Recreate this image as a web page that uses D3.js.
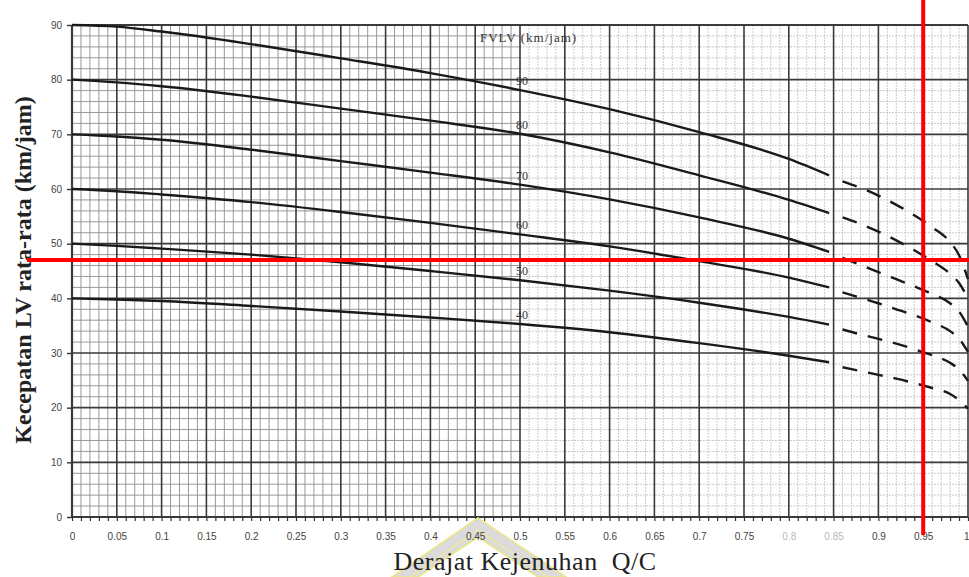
<!DOCTYPE html>
<html>
<head>
<meta charset="utf-8">
<script src="https://cdn.jsdelivr.net/npm/d3@7"></script>
<style>
  html, body { margin: 0; padding: 0; background: #fff; }
  svg { display: block; }
</style>
</head>
<body>
<svg id="chart" width="969" height="577"></svg>
<script>
  // ============================================================
  // Data
  // ============================================================

  const qcSolid = [0, 0.05, 0.1, 0.2, 0.3, 0.4, 0.5, 0.6, 0.7, 0.8, 0.845];
  const qcDashed = [0.86, 0.88, 0.9, 0.92, 0.94, 0.96, 0.98, 0.99, 1.0];

  const solid90 = [90, 89.7, 88.8, 86.5, 83.9, 81.2, 78.1, 74.6, 70.4, 65.5, 62.5];
  const solid80 = [80, 79.5, 78.8, 76.9, 74.7, 72.5, 70.1, 66.7, 62.5, 58.0, 55.6];
  const solid70 = [70, 69.6, 69.0, 67.2, 65.1, 63.0, 60.8, 58.1, 54.8, 50.9, 48.5];
  const solid60 = [60, 59.6, 59.0, 57.6, 55.8, 53.8, 51.7, 49.5, 46.8, 43.8, 42.0];
  const solid50 = [50, 49.6, 49.1, 48.0, 46.6, 45.0, 43.3, 41.4, 39.2, 36.6, 35.2];
  const solid40 = [40, 39.8, 39.5, 38.6, 37.6, 36.5, 35.3, 33.8, 31.8, 29.5, 28.3];

  const dashed90 = [61.4, 60.2, 58.8, 57.1, 55.2, 53.0, 50.3, 47.9, 43.5];
  const dashed80 = [54.8, 53.6, 52.2, 50.6, 48.8, 46.8, 44.5, 42.8, 40.0];
  const dashed70 = [47.4, 46.1, 44.8, 43.5, 42.2, 40.8, 39.1, 37.6, 34.8];
  const dashed60 = [41.1, 40.1, 39.1, 38.0, 36.9, 35.6, 34.0, 32.6, 30.2];
  const dashed50 = [34.3, 33.4, 32.6, 31.7, 30.7, 29.6, 28.2, 27.0, 24.9];
  const dashed40 = [27.4, 26.7, 26.0, 25.3, 24.5, 23.6, 22.5, 21.4, 19.8];

  const fvLevels = [90, 80, 70, 60, 50, 40];

  const xTicks = [0, 0.05, 0.1, 0.15, 0.2, 0.25, 0.3, 0.35, 0.4, 0.45, 0.5,
                  0.55, 0.6, 0.65, 0.7, 0.75, 0.8, 0.85, 0.9, 0.95, 1.0];
  const xTickLabels = ["0", "0.05", "0.1", "0.15", "0.2", "0.25", "0.3", "0.35", "0.4", "0.45", "0.5",
                       "0.55", "0.6", "0.65", "0.7", "0.75", "0.8", "0.85", "0.9", "0.95", "1"];
  const fadedTicks = [0.8, 0.85];
  const yTicks = [0, 10, 20, 30, 40, 50, 60, 70, 80, 90];

  // red reading lines drawn over the scan
  const markQC = 0.95;
  const markSpeed = 47;

  const series = fvLevels.map((fv, i) => ({
    fv: fv,
    solid: [solid90, solid80, solid70, solid60, solid50, solid40][i].map((v, j) => [qcSolid[j], v]),
    dashed: [dashed90, dashed80, dashed70, dashed60, dashed50, dashed40][i].map((v, j) => [qcDashed[j], v]),
  }));

  // ============================================================
  // Layout
  // ============================================================

  const svg = d3.select("#chart");
  const W = +svg.attr("width"), H = +svg.attr("height");

  const x = d3.scaleLinear().domain([0, 1]).range([72, 968]);
  const y = d3.scaleLinear().domain([0, 90]).range([517, 25]);

  svg.append("rect").attr("width", W).attr("height", H).attr("fill", "#fff");

  // ---- minor grid (0.01 x 2 km/jam), lighter on the right half
  const minor = svg.append("g").attr("class", "minor-grid");
  d3.range(0, 101).forEach(i => {
    if (i % 5 === 0) return;
    const q = i / 100;
    minor.append("line")
      .attr("x1", x(q)).attr("x2", x(q))
      .attr("y1", y(90)).attr("y2", y(0))
      .attr("stroke", q < 0.5 ? "#8c8c8c" : "#c4c4c4")
      .attr("stroke-width", 0.9)
      .attr("stroke-dasharray", q < 0.5 ? null : "2,1");
  });
  d3.range(0, 46).forEach(i => {
    if (i % 5 === 0) return;
    const v = i * 2;
    minor.append("line")
      .attr("x1", x(0)).attr("x2", x(0.5))
      .attr("y1", y(v)).attr("y2", y(v))
      .attr("stroke", "#8c8c8c").attr("stroke-width", 0.9);
    minor.append("line")
      .attr("x1", x(0.5)).attr("x2", x(1))
      .attr("y1", y(v)).attr("y2", y(v))
      .attr("stroke", "#c4c4c4").attr("stroke-width", 0.9)
      .attr("stroke-dasharray", "2,1");
  });

  // ---- major grid
  const major = svg.append("g").attr("class", "major-grid");
  xTicks.forEach(q => {
    major.append("line")
      .attr("x1", x(q)).attr("x2", x(q))
      .attr("y1", y(90)).attr("y2", y(0))
      .attr("stroke", "#3a3a3a")
      .attr("stroke-width", q === 0 ? 2.2 : 1.6);
  });
  yTicks.forEach(v => {
    major.append("line")
      .attr("x1", x(0)).attr("x2", x(1))
      .attr("y1", y(v)).attr("y2", y(v))
      .attr("stroke", "#3a3a3a")
      .attr("stroke-width", v === 0 || v === 90 ? 2.2 : 1.6);
  });

  // small ticks below the Q/C axis
  svg.append("g")
    .attr("transform", `translate(0,${y(0)})`)
    .call(d3.axisBottom(x).tickValues(d3.range(0, 101).map(i => i / 100)).tickSize(4).tickFormat(""))
    .call(g => g.select(".domain").remove())
    .call(g => g.selectAll("line").attr("stroke", "#333").attr("stroke-width", 1.2));

  // ---- watermark (behind axis title)
  svg.append("polygon")
    .attr("points", "392,577 478,518 566,577 538,577 478,537 418,577")
    .attr("fill", "#cfcfcf").attr("fill-opacity", 0.75)
    .attr("stroke", "#ece58a").attr("stroke-width", 1.6);
  svg.append("polyline")
    .attr("points", "410,577 478,530 548,577")
    .attr("fill", "none").attr("stroke", "#f1ea9a").attr("stroke-width", 1.2);

  // ---- axes labels
  svg.append("g")
    .attr("transform", `translate(0,${y(0)})`)
    .call(d3.axisBottom(x).tickValues(xTicks).tickSize(0).tickPadding(16)
      .tickFormat((d, i) => xTickLabels[i]))
    .call(g => g.select(".domain").remove())
    .call(g => g.selectAll("text")
      .attr("font-family", "'Liberation Sans', Arial, sans-serif")
      .attr("font-size", 10)
      .attr("text-anchor", d => d === 1 ? "end" : "middle")
      .attr("dx", d => d === 1 ? 1 : 0)
      .attr("fill", d => fadedTicks.includes(d) ? "#b8b8b8" : "#444"));

  svg.append("g")
    .attr("transform", `translate(${x(0)},0)`)
    .call(d3.axisLeft(y).tickValues(yTicks).tickSize(5).tickPadding(5))
    .call(g => g.select(".domain").remove())
    .call(g => g.selectAll("line").attr("stroke", "#333").attr("stroke-width", 1.4))
    .call(g => g.selectAll("text")
      .attr("font-family", "'Liberation Sans', Arial, sans-serif")
      .attr("font-size", 10)
      .attr("fill", "#444"));

  // ---- curves
  const line = d3.line()
    .x(d => x(d[0]))
    .y(d => y(d[1]))
    .curve(d3.curveMonotoneX);

  const curves = svg.append("g").attr("class", "curves");
  series.forEach(s => {
    curves.append("path")
      .attr("d", line(s.solid))
      .attr("fill", "none")
      .attr("stroke", "#1a1a1a")
      .attr("stroke-width", 2.4);
    curves.append("path")
      .attr("d", line(s.dashed))
      .attr("fill", "none")
      .attr("stroke", "#1a1a1a")
      .attr("stroke-width", 2.4)
      .attr("stroke-dasharray", "15,11");
  });

  // curve labels near Q/C = 0.5
  series.forEach(s => {
    const v = s.solid[qcSolid.indexOf(0.5)][1];
    svg.append("text")
      .attr("x", x(0.5) + 2)
      .attr("y", y(v) - 5)
      .attr("text-anchor", "middle")
      .attr("font-family", "'Liberation Serif', serif")
      .attr("font-size", 12)
      .attr("fill", "#333")
      .text(s.fv);
  });

  svg.append("text")
    .attr("x", 480).attr("y", 42)
    .attr("font-family", "'Liberation Serif', serif")
    .attr("font-size", 13)
    .attr("letter-spacing", 1)
    .attr("fill", "#333")
    .text("FVLV (km/jam)");

  // ---- axis titles
  svg.append("text")
    .attr("transform", "translate(31,270) rotate(-90)")
    .attr("text-anchor", "middle")
    .attr("font-family", "'Liberation Serif', 'DejaVu Serif', serif")
    .attr("font-weight", "bold")
    .attr("font-size", 24)
    .attr("fill", "#222")
    .text("Kecepatan LV rata-rata (km/jam)");

  svg.append("text")
    .attr("x", 525).attr("y", 570)
    .attr("text-anchor", "middle")
    .attr("font-family", "'Liberation Serif', 'DejaVu Serif', serif")
    .attr("font-size", 26)
    .attr("letter-spacing", 0.5)
    .attr("fill", "#222")
    .style("white-space", "pre")
    .text("Derajat Kejenuhan  Q/C");

  // ---- red reading lines
  svg.append("line")
    .attr("x1", x(markQC)).attr("x2", x(markQC))
    .attr("y1", 0).attr("y2", y(0) + 18)
    .attr("stroke", "#ff0000").attr("stroke-width", 4);
  svg.append("line")
    .attr("x1", 27).attr("x2", W)
    .attr("y1", y(markSpeed)).attr("y2", y(markSpeed))
    .attr("stroke", "#ff0000").attr("stroke-width", 4);
</script>
</body>
</html>
